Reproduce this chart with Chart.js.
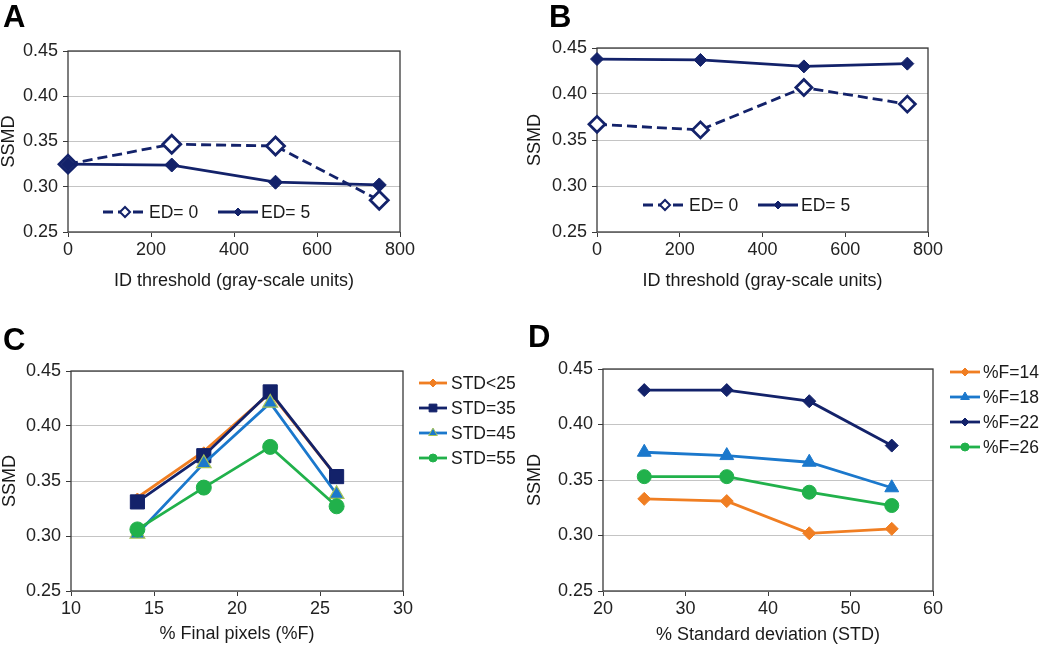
<!DOCTYPE html>
<html>
<head>
<meta charset="utf-8">
<script src="https://cdn.jsdelivr.net/npm/chart.js@4.4.1/dist/chart.umd.min.js"></script>
<style>
html, body { margin: 0; padding: 0; background: #fff; }
#wrap { position: relative; width: 1050px; height: 646px; overflow: hidden; }
canvas { position: absolute; }
.letter { position: absolute; font: bold 31px "Liberation Sans", Arial, sans-serif; line-height: 31px; color: #000; }
</style>
</head>
<body>
<div id="wrap">
  <canvas id="cA" width="520" height="320" style="left:0;top:0"></canvas>
  <canvas id="cB" width="530" height="320" style="left:520px;top:0"></canvas>
  <canvas id="cC" width="520" height="326" style="left:0;top:320px"></canvas>
  <canvas id="cD" width="530" height="326" style="left:520px;top:320px"></canvas>
  <div class="letter" style="left:3px;top:1px">A</div>
  <div class="letter" style="left:549px;top:1px">B</div>
  <div class="letter" style="left:3px;top:324px">C</div>
  <div class="letter" style="left:528px;top:321px">D</div>
</div>
<script>
// ---- data ----
var ssmdTicks = [0.25, 0.30, 0.35, 0.40, 0.45];

var idThreshold = [0, 250, 500, 750];
var idTicks = [0, 200, 400, 600, 800];
var aED0 = [0.325, 0.347, 0.345, 0.285];
var aED5 = [0.325, 0.324, 0.305, 0.302];
var bED0 = [0.367, 0.361, 0.407, 0.389];
var bED5 = [0.438, 0.437, 0.430, 0.433];

var finalPixels = [14, 18, 22, 26];
var finalTicks = [10, 15, 20, 25, 30];
var cSTD25 = [0.335, 0.377, 0.430, 0.354];
var cSTD35 = [0.331, 0.373, 0.431, 0.354];
var cSTD45 = [0.302, 0.366, 0.421, 0.338];
var cSTD55 = [0.306, 0.344, 0.381, 0.327];

var stdDev = [25, 35, 45, 55];
var stdTicks = [20, 30, 40, 50, 60];
var dF14 = [0.333, 0.331, 0.302, 0.306];
var dF18 = [0.375, 0.372, 0.366, 0.343];
var dF22 = [0.431, 0.431, 0.421, 0.381];
var dF26 = [0.353, 0.353, 0.339, 0.327];

var NAVY = '#13226a', ORANGE = '#f07e22', BLUE = '#1b78cc', GREEN = '#21b14b';
var FONT = '"Liberation Sans", Arial, sans-serif';

function pts(xs, ys) {
    return ys.map(function(v, i) { return { x: xs[i], y: v }; });
}

function series(label, xs, ys, color, style, r, extra) {
    var ds = {
        label: label, data: pts(xs, ys), borderColor: color, borderWidth: 2.8,
        pointStyle: style, pointRadius: r, pointHoverRadius: r,
        pointBackgroundColor: color, pointBorderColor: color, pointBorderWidth: 1,
        tension: 0, fill: false, clip: false
    };
    for (var k in extra) ds[k] = extra[k];
    return ds;
}

// frame around the plot area, drawn over the grid but under the lines
var framePlugin = {
    id: 'frame',
    beforeDatasetsDraw: function(chart) {
        var a = chart.chartArea, ctx = chart.ctx;
        ctx.save();
        ctx.strokeStyle = '#3a3a3a';
        ctx.lineWidth = 1.3;
        ctx.strokeRect(a.left, a.top, a.right - a.left, a.bottom - a.top);
        ctx.restore();
    }
};

// excel-like legend: short line with a small marker, then the label
var lineLegend = {
    id: 'lineLegend',
    afterDraw: function(chart, args, opts) {
        if (!opts.items) return;
        var ctx = chart.ctx;
        opts.items.forEach(function(it) {
            var ds = chart.data.datasets[it.ds];
            ctx.save();
            ctx.strokeStyle = ds.borderColor;
            ctx.lineWidth = ds.borderWidth;
            ctx.setLineDash(ds.borderDash || []);
            ctx.beginPath();
            ctx.moveTo(it.x0, it.y);
            ctx.lineTo(it.x1, it.y);
            ctx.stroke();
            ctx.setLineDash([]);
            ctx.fillStyle = ds.pointBackgroundColor;
            ctx.strokeStyle = ds.pointBorderColor;
            ctx.lineWidth = it.bw || 1;
            Chart.helpers.drawPoint(ctx, { pointStyle: ds.pointStyle, radius: it.r, rotation: 0, borderWidth: it.bw || 1 }, (it.x0 + it.x1) / 2, it.y);
            ctx.fillStyle = '#1a1a1a';
            ctx.font = '17.5px ' + FONT;
            ctx.textBaseline = 'middle';
            ctx.textAlign = 'left';
            ctx.fillText(ds.label, it.tx, it.y + 1);
            ctx.restore();
        });
    }
};

function makeChart(id, p) {
    return new Chart(document.getElementById(id), {
        type: 'line',
        data: { datasets: p.datasets },
        options: {
            responsive: false, animation: false, events: [],
            layout: { padding: p.pad },
            plugins: { legend: { display: false }, tooltip: { enabled: false }, lineLegend: { items: p.legend } },
            scales: {
                x: {
                    type: 'linear', min: p.xTicks[0], max: p.xTicks[p.xTicks.length - 1],
                    afterBuildTicks: function(s) { s.ticks = p.xTicks.map(function(v) { return { value: v }; }); },
                    afterFit: function(s) { s.height = p.xH; },
                    grid: { drawOnChartArea: false, drawTicks: true, tickLength: 5, tickColor: '#3a3a3a' },
                    border: { display: false },
                    ticks: { padding: 2, maxRotation: 0, color: '#222', font: { family: FONT, size: 18 } },
                    title: { display: true, text: p.xTitle, color: '#1a1a1a', padding: 0, font: { family: FONT, size: 18, lineHeight: 1 } }
                },
                y: {
                    type: 'linear', min: 0.25, max: 0.45,
                    afterBuildTicks: function(s) { s.ticks = ssmdTicks.map(function(v) { return { value: v }; }); },
                    afterFit: function(s) { s.width = p.yW; },
                    grid: { color: '#c4c4c4', lineWidth: 1, tickLength: 5, tickColor: '#3a3a3a' },
                    border: { display: false },
                    ticks: { padding: 5, color: '#222', font: { family: FONT, size: 18 }, callback: function(v) { return v.toFixed(2); } },
                    title: { display: true, text: 'SSMD', color: '#1a1a1a', padding: 0, font: { family: FONT, size: 18, lineHeight: 1 } }
                }
            }
        },
        plugins: [framePlugin, lineLegend]
    });
}

var openDiamond = { pointBackgroundColor: '#fff', pointBorderWidth: 2.8, borderDash: [10, 5] };

makeChart('cA', {
    pad: { left: 0, top: 51, right: 120, bottom: 30 }, yW: 68, xH: 58,
    xTicks: idTicks, xTitle: 'ID threshold (gray-scale units)',
    datasets: [
        series('ED= 0', idThreshold, aED0, NAVY, 'rectRot', 9, Object.assign({ order: 2 }, openDiamond)),
        series('ED= 5', idThreshold, aED5, NAVY, 'rectRot', 7, { order: 1 })
    ],
    legend: [
        { ds: 0, x0: 103, x1: 147, tx: 149, y: 212, r: 5, bw: 2 },
        { ds: 1, x0: 218, x1: 258, tx: 261, y: 212, r: 4 }
    ]
});

makeChart('cB', {
    pad: { left: 6, top: 48, right: 122, bottom: 30 }, yW: 71, xH: 58,
    xTicks: idTicks, xTitle: 'ID threshold (gray-scale units)',
    datasets: [
        series('ED= 0', idThreshold, bED0, NAVY, 'rectRot', 8, Object.assign({ order: 2 }, openDiamond)),
        series('ED= 5', idThreshold, bED5, NAVY, 'rectRot', 6.5, { order: 1 })
    ],
    legend: [
        { ds: 0, x0: 123, x1: 167, tx: 169, y: 205, r: 5, bw: 2 },
        { ds: 1, x0: 238, x1: 278, tx: 281, y: 205, r: 4 }
    ]
});

makeChart('cC', {
    pad: { left: 1, top: 51, right: 117, bottom: 3 }, yW: 70, xH: 52,
    xTicks: finalTicks, xTitle: '% Final pixels (%F)',
    datasets: [
        series('STD<25', finalPixels, cSTD25, ORANGE, 'rectRot', 4.5, { order: 4 }),
        series('STD=35', finalPixels, cSTD35, NAVY, 'rect', 10, { order: 3 }),
        series('STD=45', finalPixels, cSTD45, BLUE, 'triangle', 8.5, { order: 2, pointBorderColor: '#a4c257', pointBorderWidth: 1.2 }),
        series('STD=55', finalPixels, cSTD55, GREEN, 'circle', 7.5, { order: 1 })
    ],
    legend: [
        { ds: 0, x0: 419, x1: 447, tx: 451, y: 63, r: 4 },
        { ds: 1, x0: 419, x1: 447, tx: 451, y: 88, r: 5.5 },
        { ds: 2, x0: 419, x1: 447, tx: 451, y: 113, r: 5 },
        { ds: 3, x0: 419, x1: 447, tx: 451, y: 138, r: 4 }
    ]
});

makeChart('cD', {
    pad: { left: 6, top: 49, right: 117, bottom: 2 }, yW: 77, xH: 53,
    xTicks: stdTicks, xTitle: '% Standard deviation (STD)',
    datasets: [
        series('%F=14', stdDev, dF14, ORANGE, 'rectRot', 6.5, { order: 4 }),
        series('%F=18', stdDev, dF18, BLUE, 'triangle', 8, { order: 3 }),
        series('%F=22', stdDev, dF22, NAVY, 'rectRot', 6.5, { order: 2 }),
        series('%F=26', stdDev, dF26, GREEN, 'circle', 7, { order: 1 })
    ],
    legend: [
        { ds: 0, x0: 430, x1: 460, tx: 463, y: 52, r: 4 },
        { ds: 1, x0: 430, x1: 460, tx: 463, y: 77, r: 5 },
        { ds: 2, x0: 430, x1: 460, tx: 463, y: 102, r: 4 },
        { ds: 3, x0: 430, x1: 460, tx: 463, y: 127, r: 4 }
    ]
});
</script>
</body>
</html>
